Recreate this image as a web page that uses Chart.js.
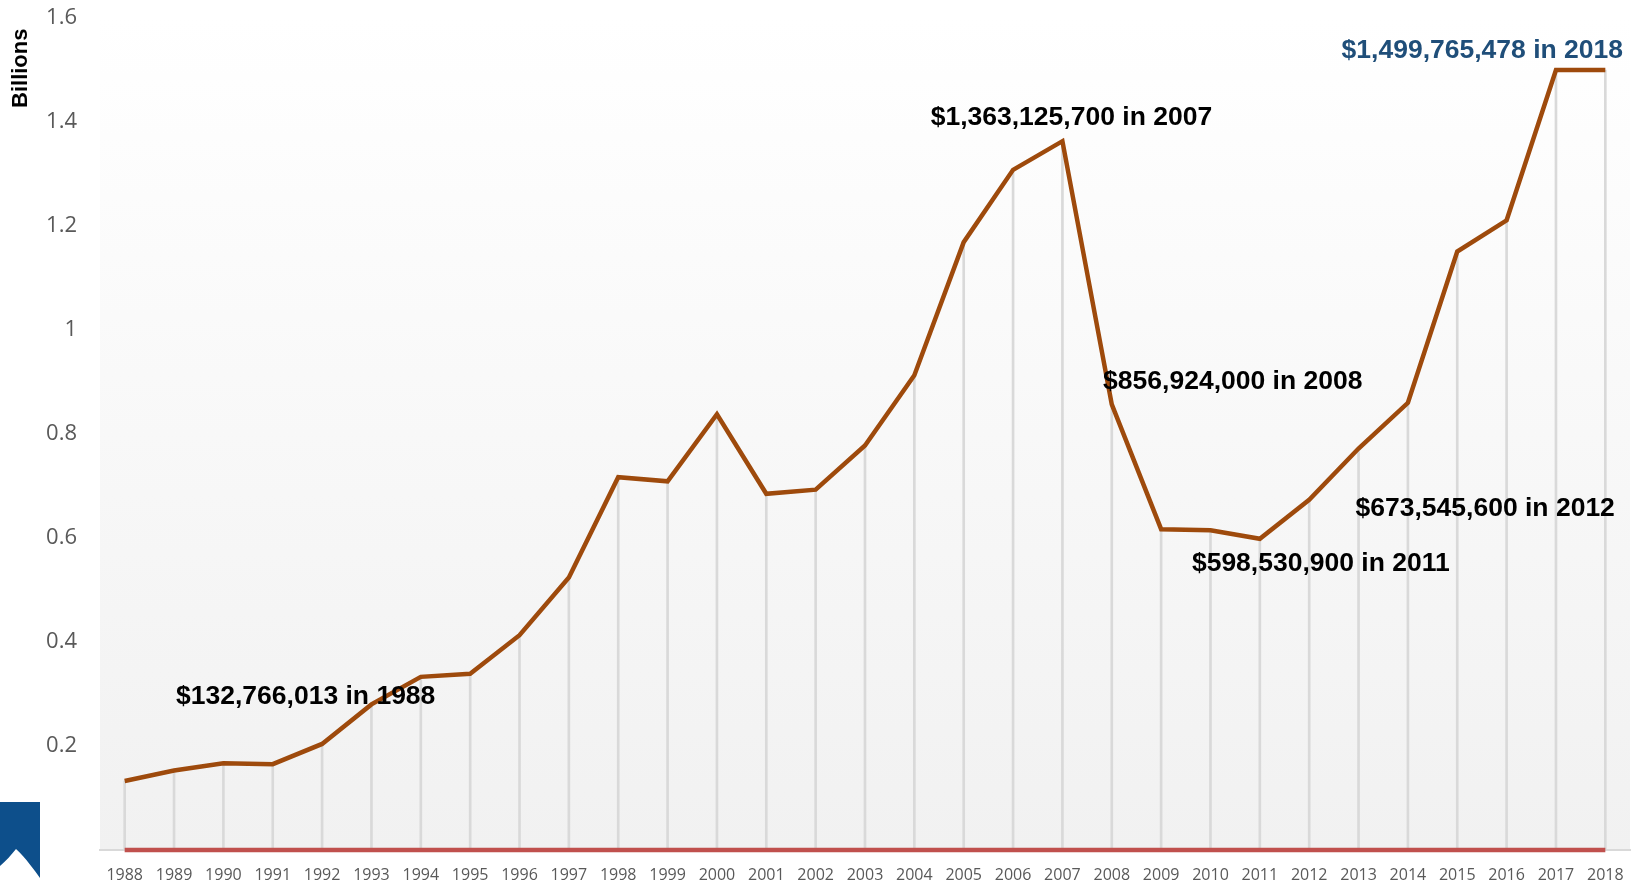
<!DOCTYPE html>
<html><head><meta charset="utf-8">
<script src="https://cdn.jsdelivr.net/npm/chart.js@4/dist/chart.umd.min.js"></script>
<style>
html,body{margin:0;padding:0;background:#fff;overflow:hidden}
#wrap{position:relative;width:1643px;height:883px}
#logo{position:absolute;left:0;top:802px}
</style></head><body>
<div id="wrap">
<canvas id="c" width="1643" height="883"></canvas>
<svg id="logo" width="42" height="78" viewBox="0 0 42 78"><path d="M0 0 H40 V76 C34 68 26 56 16 47 C11 53 6 59 0 64 Z" fill="#0d4f8b"/></svg>
</div>
<script>
const years = ['1988','1989','1990','1991','1992','1993','1994','1995','1996','1997','1998','1999','2000','2001','2002','2003','2004','2005','2006','2007','2008','2009','2010','2011','2012','2013','2014','2015','2016','2017','2018'];
const valuesBillions = [0.132766013,0.153,0.167,0.165,0.204,0.280,0.333,0.339,0.413,0.524,0.717,0.709,0.838,0.685,0.693,0.778,0.913,1.169,1.308,1.3631257,0.856924,0.617,0.615,0.5985309,0.6735456,0.772,0.860,1.151,1.211,1.500,1.499765478];
const yTicks = [0,0.2,0.4,0.6,0.8,1,1.2,1.4,1.6];
const annoYears = ['1988','2007','2008','2011','2012','2018'];
const annoTexts = ['$132,766,013 in 1988','$1,363,125,700 in 2007','$856,924,000 in 2008','$598,530,900 in 2011','$673,545,600 in 2012','$1,499,765,478 in 2018'];
const annoColors = ['#000000','#000000','#000000','#000000','#000000','#1f4e79'];
const annoOffsets = [[181,-84],[9,-23],[121,-23],[61,25],[176,9],[-123,-19]];

const bgPlugin = {
  id:'bg',
  beforeDraw(chart){
    const {ctx, chartArea:a} = chart;
    const g = ctx.createLinearGradient(0,a.top,0,a.bottom);
    g.addColorStop(0,'#ffffff');
    g.addColorStop(1,'#f1f1f1');
    ctx.save(); ctx.fillStyle=g; ctx.fillRect(a.left,a.top,a.right-a.left,a.bottom-a.top); ctx.restore();
  }
};
const annoPlugin = {
  id:'anno',
  afterDatasetsDraw(chart){
    const {ctx, scales:{x,y}} = chart;
    ctx.save();
    ctx.font = 'bold 26.5px "Liberation Sans", Arial, sans-serif';
    ctx.textAlign='center'; ctx.textBaseline='middle';
    annoYears.forEach((yr,i)=>{
      const idx = years.indexOf(yr);
      const px = x.getPixelForValue(idx) + annoOffsets[i][0];
      const py = y.getPixelForValue(valuesBillions[idx]) + annoOffsets[i][1];
      ctx.fillStyle = annoColors[i];
      ctx.fillText(annoTexts[i], px, py);
    });
    ctx.restore();
  }
};

new Chart(document.getElementById('c'), {
  type:'bar',
  data:{
    labels: years,
    datasets:[
      {type:'line', data: valuesBillions, borderColor:'#9e4a0c', borderWidth:4.5, pointRadius:0, tension:0, order:0},
      {type:'line', data:[{x:'1988',y:0},{x:'2018',y:0}], borderColor:'#c0504d', borderWidth:4.5, pointRadius:0, clip:false, order:1},
      {type:'bar', data: valuesBillions, backgroundColor:'#d9d9d9', barThickness:2, order:2}
    ]
  },
  options:{
    responsive:false, animation:false,
    layout:{padding:{top:18,right:13,left:0,bottom:0}},
    plugins:{legend:{display:false}, tooltip:{enabled:false}},
    scales:{
      x:{
        offset:true,
        grid:{display:false, drawTicks:false},
        border:{display:true, color:'#d9d9d9', width:2},
        ticks:{color:'#595959', font:{family:'"Open Sans"', size:16}, maxRotation:0, autoSkip:false, padding:16},
        afterFit(s){ s.height = 33; s.paddingLeft = 0; s.paddingRight = 0; }
      },
      y:{
        min:0, max:1.6,
        afterBuildTicks(s){ s.ticks = yTicks.map(v=>({value:v})); },
        grid:{display:false, drawTicks:false},
        border:{display:false},
        ticks:{color:'#595959', font:{family:'"Open Sans"', size:22}, padding:23,
          callback:v=> v===0 ? '' : String(parseFloat(Number(v).toFixed(1)))},
        title:{display:true, text:'Billions \u2009', align:'end', color:'#000', font:{family:'"Liberation Sans"', weight:'bold', size:22}, padding:{top:8,bottom:0}},
        afterFit(s){ s.width = 100; s.paddingTop = 0; s.paddingBottom = 0; }
      }
    }
  },
  plugins:[bgPlugin, annoPlugin]
});
</script>
</body></html>
